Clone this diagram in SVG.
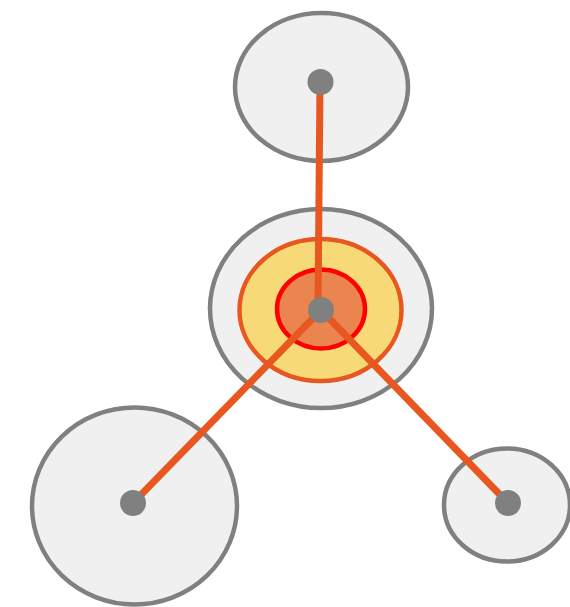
<svg xmlns="http://www.w3.org/2000/svg" width="570" height="607" viewBox="0 0 570 607">
<style>
.n{fill:#f0f0f0;stroke:#808080;stroke-width:4.5}
.dot{fill:#808080}
.e{stroke:#e8571f;stroke-width:7;stroke-linecap:butt}
</style>
<rect width="570" height="607" fill="#ffffff"/>
<g id="node-top"><ellipse class="n" cx="321.5" cy="87" rx="86.5" ry="74"/></g>
<g id="node-left"><ellipse class="n" cx="134.5" cy="506" rx="102.5" ry="98.5"/></g>
<g id="node-right"><ellipse class="n" cx="507" cy="505" rx="63" ry="56.5"/></g>
<g id="node-center">
<ellipse class="n" cx="321" cy="308.5" rx="111" ry="99.5"/>
<ellipse cx="320.5" cy="310" rx="81" ry="71" fill="#f7d977" stroke="#e8571f" stroke-width="4.5"/>
<ellipse cx="321" cy="309" rx="44" ry="39.5" fill="#eb8550" stroke="#ff0000" stroke-width="4.5"/>
</g>
<g id="connectors">
<line class="e" x1="318" y1="310" x2="320" y2="82"/>
<line class="e" x1="321" y1="310" x2="133" y2="503"/>
<line class="e" x1="321" y1="310" x2="508" y2="503"/>
</g>
<g id="dots">
<circle class="dot" cx="320.5" cy="82" r="13"/>
<circle class="dot" cx="321" cy="310" r="13"/>
<circle class="dot" cx="133" cy="503" r="13"/>
<circle class="dot" cx="508" cy="503" r="13"/>
</g>
</svg>
